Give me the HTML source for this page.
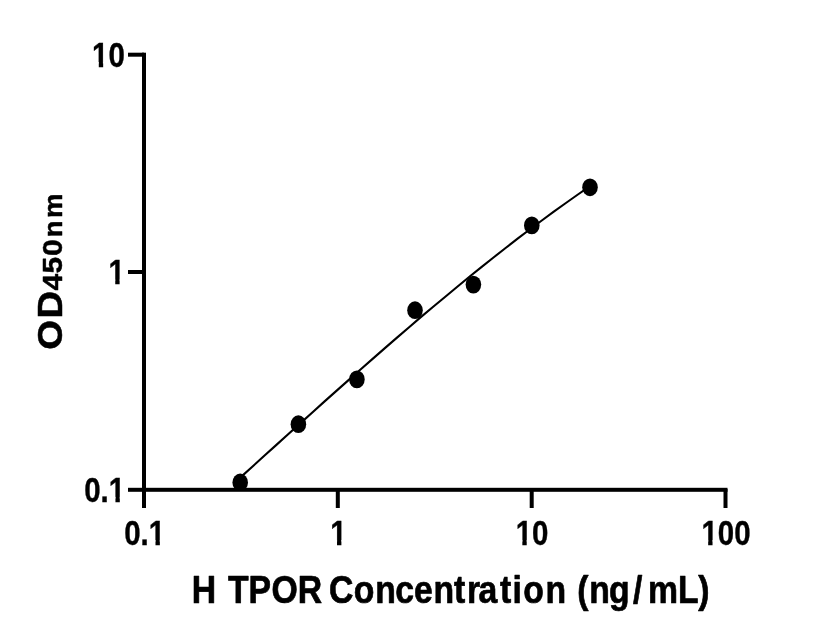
<!DOCTYPE html>
<html lang="en">
<head>
<meta charset="utf-8">
<title>H TPOR Concentration</title>
<style>
html,body{margin:0;padding:0;background:#fff;}
body{width:816px;height:640px;overflow:hidden;}
svg{display:block;}
text{font-family:"Liberation Sans",sans-serif;font-weight:bold;fill:#000;}
.tk{font-size:34.6px;stroke:#000;stroke-width:0.4;}
.xt{font-size:38.8px;stroke:#000;stroke-width:0.7;stroke-linejoin:round;}
.yt{stroke:#000;stroke-width:0.5;stroke-linejoin:round;}
</style>
</head>
<body>
<svg width="816" height="640" viewBox="0 0 816 640">
<rect width="816" height="640" fill="#fff"/>
<defs><clipPath id="plot"><rect x="144" y="40" width="600" height="449.5"/></clipPath></defs>
<g clip-path="url(#plot)" fill="#000">
<path d="M240.2 477.6 L252.3 466.7 L264.3 455.8 L276.4 444.9 L288.4 434.0 L300.5 423.1 L312.6 412.2 L324.6 401.4 L336.7 390.6 L348.8 379.9 L360.8 369.2 L372.9 358.6 L384.9 348.1 L397.0 337.6 L409.1 327.2 L421.1 316.9 L433.2 306.8 L445.3 296.7 L457.3 286.7 L469.4 276.8 L481.4 267.1 L493.5 257.5 L505.6 248.0 L517.6 238.7 L529.7 229.5 L541.8 220.5 L553.8 211.7 L565.9 203.0 L577.9 194.5 L590.0 186.2" fill="none" stroke="#000" stroke-width="2.1" stroke-linejoin="round"/>
<ellipse cx="240.2" cy="482.5" rx="7.8" ry="8.9"/>
<ellipse cx="298.4" cy="424.2" rx="7.8" ry="8.9"/>
<ellipse cx="356.9" cy="379.4" rx="7.8" ry="8.9"/>
<ellipse cx="415" cy="310.2" rx="7.8" ry="8.9"/>
<ellipse cx="473.4" cy="284.6" rx="7.8" ry="8.9"/>
<ellipse cx="531.8" cy="225.4" rx="7.8" ry="8.9"/>
<ellipse cx="590" cy="187.3" rx="7.8" ry="8.9"/>
</g>
<g fill="#000">
<rect x="142" y="52.7" width="4" height="439.1"/>
<rect x="128" y="487.8" width="599.5" height="4"/>
<rect x="128" y="52.7" width="16" height="4"/>
<rect x="128" y="270" width="16" height="4"/>
<rect x="142" y="489" width="4" height="19"/>
<rect x="335.8" y="489" width="4" height="19"/>
<rect x="529.7" y="489" width="4" height="19"/>
<rect x="723.5" y="489" width="4" height="19"/>
</g>
<g transform="translate(124.8 66.8) scale(0.85 1)"><text id="y10" class="tk" text-anchor="end">10</text><rect x="-37.69" y="-4.7" width="7.08" height="6.4" fill="#fff"/><rect x="-25.46" y="-4.7" width="6.63" height="6.4" fill="#fff"/></g>
<g transform="translate(124.9 284.3) scale(0.85 1)"><text id="y1" class="tk" text-anchor="end">1</text><rect x="-18.44" y="-4.7" width="7.08" height="6.4" fill="#fff"/><rect x="-6.22" y="-4.7" width="6.63" height="6.4" fill="#fff"/></g>
<g transform="translate(125.1 501.6) scale(0.85 1)"><text id="y01" class="tk" text-anchor="end">0.1</text><rect x="-18.44" y="-4.7" width="7.08" height="6.4" fill="#fff"/><rect x="-6.22" y="-4.7" width="6.63" height="6.4" fill="#fff"/></g>
<g transform="translate(144.7 544.8) scale(0.85 1)"><text id="x01" class="tk" text-anchor="middle">0.1</text><rect x="5.61" y="-4.7" width="7.08" height="6.4" fill="#fff"/><rect x="17.83" y="-4.7" width="6.63" height="6.4" fill="#fff"/></g>
<g transform="translate(338.5 544.8) scale(0.85 1)"><text id="x1" class="tk" text-anchor="middle">1</text><rect x="-8.82" y="-4.7" width="7.08" height="6.4" fill="#fff"/><rect x="3.40" y="-4.7" width="6.63" height="6.4" fill="#fff"/></g>
<g transform="translate(532 544.8) scale(0.85 1)"><text id="x10" class="tk" text-anchor="middle">10</text><rect x="-18.44" y="-4.7" width="7.08" height="6.4" fill="#fff"/><rect x="-6.22" y="-4.7" width="6.63" height="6.4" fill="#fff"/></g>
<g transform="translate(726 544.8) scale(0.85 1)"><text id="x100" class="tk" text-anchor="middle">100</text><rect x="-28.06" y="-4.7" width="7.08" height="6.4" fill="#fff"/><rect x="-15.84" y="-4.7" width="6.63" height="6.4" fill="#fff"/></g>
<text id="xt" class="xt" transform="translate(0 602.5) scale(0.87 1)" x="220.54 241.35 262.16 285.56 312.06 342.16 360.23 378.31 406.48 431.35 454.31 475.84 498.30 521.93 536.92 549.90 574.63 589.23 601.54 626.98 645.30 663.63 677.38 700.03 727.66 744.74 779.35 802.65">H TPOR Concentration (ng/mL)</text>
<text id="yt" class="yt" transform="translate(62 350) rotate(-90) scale(1.1 1)"><tspan font-size="34.8" x="0.12 28.68">OD</tspan><tspan font-size="27.2" x="54.08 69.49 85.50">450</tspan><tspan font-size="25" x="102.50 119.97">nm</tspan></text>
</svg>
</body>
</html>
